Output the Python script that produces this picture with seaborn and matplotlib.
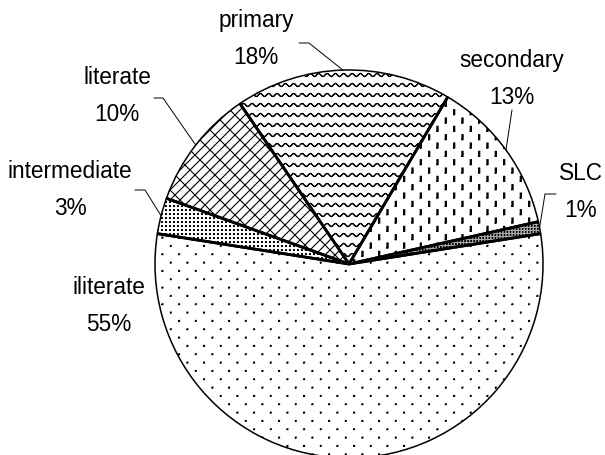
import numpy as np
import matplotlib
matplotlib.use("Agg")
import matplotlib.pyplot as plt
import matplotlib.hatch as mhatch
from matplotlib.path import Path
import seaborn as sns

# ---- data -------------------------------------------------------------
categories = ["iliterate", "intermediate", "literate", "primary", "secondary", "SLC"]
shares = [55, 3, 10, 18, 13, 1]

# ---- styles -----------------------------------------------------------
hatches = [".", "o", "/", "-", "|", "O"]
facecolors = ["white", "white", "white", "white", "white", "#a8a8a8"]

# label block centres and leader elbows, in figure pixels (origin top-left)
label_pos = {
    "primary": (256, 39), "secondary": (512, 79), "literate": (117, 96),
    "intermediate": (70, 190), "SLC": (581, 192), "iliterate": (109, 306),
}
leader_elbow = {
    "primary": ((309, 44), (299, 44)),
    "secondary": ((512, 111), None),
    "literate": ((163, 99), (154, 99)),
    "intermediate": ((145, 191), (135, 191)),
    "SLC": ((545, 195), (556, 195)),
}

W, H = 605, 456
CX, CY, R = 349, 265, 194


# ---- fill patterns ----------------------------------------------------
class _Pattern(mhatch.HatchPatternBase):
    key = None

    def __init__(self, hatch, density):
        self.parts = self.build() if (hatch and self.key in hatch) else []
        self.num_vertices = sum(len(p) for p in self.parts)

    def build(self):
        return []

    def set_vertices_and_codes(self, vertices, codes):
        i = 0
        for p in self.parts:
            n = len(p)
            vertices[i:i + n] = p
            codes[i] = Path.MOVETO
            codes[i + 1:i + n] = Path.LINETO
            i += n


def _rect(x0, y0, x1, y1):
    return [(x0, y0), (x1, y0), (x1, y1), (x0, y1), (x0, y0)]


class SparseDots(_Pattern):
    key = "."

    def build(self):
        cols, rows, h = 6, 12, 0.004
        out = []
        for r in range(rows):
            for c in range(cols):
                x = (c + 0.25 + 0.5 * (r % 2)) / cols
                y = (r + 0.5) / rows
                out.append(_rect(x - h, y - h, x + h, y + h))
        return out


class GridDots(_Pattern):
    key = "o"
    n, h = 25, 0.003

    def build(self):
        out = []
        for r in range(self.n):
            for c in range(self.n):
                x = (c + 0.5) / self.n
                y = (r + 0.5) / self.n
                out.append(_rect(x - self.h, y - self.h, x + self.h, y + self.h))
        return out


class FineDots(GridDots):
    key = "O"
    n, h = 33, 0.002


class Wave(_Pattern):
    key = "-"

    def build(self):
        lines, periods, amp = 10, 12, 0.015
        steps = periods * 8
        xs = np.linspace(0, 1, steps + 1)
        out = []
        for k in range(lines):
            y0 = (k + 0.5) / lines
            ys = y0 + amp * np.sin(2 * np.pi * periods * xs)
            for a in range(steps):
                out.append([(xs[a], ys[a]), (xs[a + 1], ys[a + 1])])
        return out


class Brick(_Pattern):
    key = "/"

    def build(self):
        n = 10
        out = []
        for k in range(-n - 1, n + 2):
            c = k / n
            out.append([(c - 0.1, -0.1), (c + 1.1, 1.1)])
            for j in range(-2, n + 2):
                x = j / n + (k % 2) / (2 * n)
                y = x - c
                out.append([(x, y), (x + 1 / (2 * n), y - 1 / (2 * n))])
        return out


class Dashes(_Pattern):
    key = "|"

    def build(self):
        cols, per, length, w = 12, 6, 0.05, 0.006
        out = []
        for i in range(cols):
            x = (i + 0.5) / cols
            off = (i % 2) * 0.5 / per
            for r in range(-1, per + 1):
                y = r / per + off + 0.02
                out.append(_rect(x - w, y, x + w, y + length))
        return out


mhatch._hatch_types = [SparseDots, GridDots, FineDots, Wave, Brick, Dashes]

# ---- figure -----------------------------------------------------------
sns.set_theme(style="white")
plt.rcParams["font.family"] = ["Liberation Sans", "DejaVu Sans"]
plt.rcParams["hatch.linewidth"] = 0.8

fig = plt.figure(figsize=(W / 100, H / 100), dpi=100)
ax = fig.add_axes([0, 0, 1, 1])


def px(p):
    """Figure pixel (origin top-left) -> data coordinates of the pie axes."""
    return ((p[0] - CX) / R, (CY - p[1]) / R)


wedges, _ = ax.pie(
    shares, startangle=9, counterclock=False, radius=1.0,
    colors=facecolors,
    wedgeprops=dict(edgecolor="black", linewidth=1.1),
)
for w, h in zip(wedges, hatches):
    w.set_hatch(h)

# heavier radial borders between slices
for w in wedges:
    for th in (w.theta1, w.theta2):
        t = np.deg2rad(th)
        ax.plot([0, w.r * np.cos(t)], [0, w.r * np.sin(t)],
                color="black", lw=2.0, solid_capstyle="butt", zorder=3)

# labels and leader lines
for w, cat, val in zip(wedges, categories, shares):
    x, y = px(label_pos[cat])
    ax.text(x, y, f"{cat}\n{val}%", ha="center", va="center",
            multialignment="center", fontsize=16.3, linespacing=1.8,
            color="black", zorder=5)
    if cat in leader_elbow:
        elbow, tick = leader_elbow[cat]
        mid = np.deg2rad((w.theta1 + w.theta2) / 2)
        end = (w.r * np.cos(mid), w.r * np.sin(mid))
        ex, ey = px(elbow)
        xs, ys = [ex, end[0]], [ey, end[1]]
        if tick is not None:
            tx, ty = px(tick)
            xs, ys = [tx] + xs, [ty] + ys
        ax.plot(xs, ys, color="black", lw=0.7, zorder=4)

ax.set_xlim(-CX / R, (W - CX) / R)
ax.set_ylim((CY - H) / R, CY / R)
ax.set_aspect("equal", adjustable="box")
ax.axis("off")

fig.savefig("out.png", dpi=100, facecolor="white")
